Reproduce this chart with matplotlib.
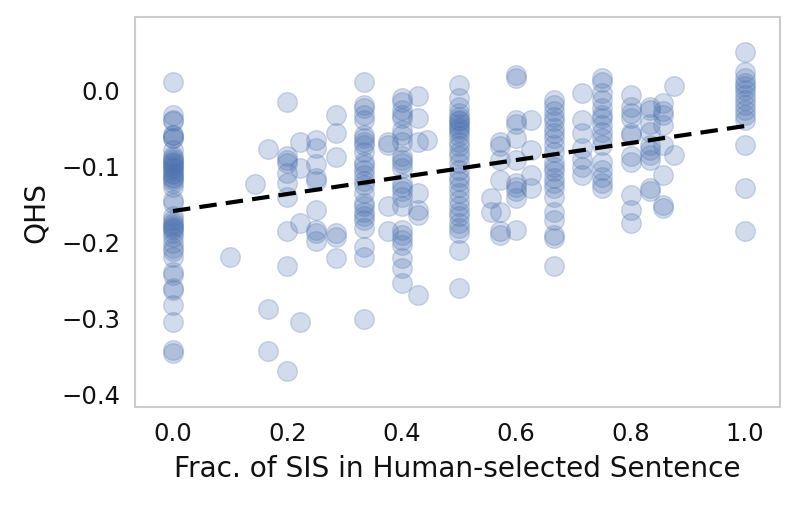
import numpy as np
import matplotlib
matplotlib.use("Agg")
import matplotlib.pyplot as plt
import seaborn as sns

# QHS values, one list per fraction level
q_0 = [0.012, -0.032, -0.038, -0.040, -0.058, -0.058, -0.062, -0.062, -0.078, -0.086,
       -0.088, -0.091, -0.093, -0.095, -0.097, -0.100, -0.102, -0.104, -0.108, -0.110,
       -0.113, -0.115, -0.117, -0.121, -0.126, -0.143, -0.148,
       -0.165, -0.170, -0.174, -0.176, -0.179, -0.181, -0.183, -0.187, -0.192, -0.200,
       -0.207, -0.211, -0.218, -0.238, -0.242, -0.260, -0.262, -0.282, -0.304, -0.341, -0.345]
q_1_10 = [-0.219]
q_1_7 = [-0.122]
q_1_6 = [-0.077, -0.287, -0.342]
q_1_5 = [-0.014, -0.086, -0.091, -0.095, -0.108, -0.121, -0.139, -0.185, -0.231, -0.369]
q_2_9 = [-0.067, -0.101, -0.174, -0.304]
q_1_4 = [-0.064, -0.075, -0.096, -0.115, -0.119, -0.157, -0.183, -0.187, -0.198]
q_2_7 = [-0.032, -0.055, -0.087, -0.187, -0.192, -0.220]
q_1_3 = [0.012, -0.018, -0.023, -0.032, -0.038, -0.058, -0.062, -0.067, -0.071, -0.080,
         -0.093, -0.097, -0.104, -0.111, -0.119, -0.124, -0.135, -0.148, -0.152, -0.159,
         -0.165, -0.170, -0.181, -0.205, -0.218, -0.300]
q_3_8 = [-0.067, -0.071, -0.152, -0.185]
q_2_5 = [-0.010, -0.014, -0.025, -0.032, -0.036, -0.051, -0.058, -0.067, -0.086, -0.091,
         -0.095, -0.102, -0.121, -0.126, -0.132, -0.139, -0.152, -0.183, -0.189, -0.196,
         -0.203, -0.220, -0.233, -0.253]
q_3_7 = [-0.007, -0.036, -0.067, -0.135, -0.157, -0.163, -0.268]
q_4_9 = [-0.064]
q_1_2 = [0.008, -0.010, -0.021, -0.029, -0.034, -0.038, -0.040, -0.043, -0.047, -0.050,
         -0.054, -0.060, -0.067, -0.073, -0.080, -0.086, -0.095, -0.104, -0.113, -0.119,
         -0.126, -0.135, -0.143, -0.152, -0.159, -0.165, -0.174, -0.181, -0.187, -0.209, -0.260]
q_5_9 = [-0.141, -0.159]
q_4_7 = [-0.067, -0.073, -0.091, -0.117, -0.159, -0.185, -0.189]
q_3_5 = [0.021, 0.017, -0.038, -0.043, -0.062, -0.091, -0.121, -0.126, -0.132, -0.141, -0.183]
q_5_8 = [-0.038, -0.078, -0.111, -0.128]
q_2_3 = [-0.012, -0.018, -0.027, -0.034, -0.040, -0.049, -0.056, -0.062, -0.071, -0.080,
         -0.093, -0.100, -0.106, -0.115, -0.121, -0.128, -0.139, -0.159, -0.170, -0.189,
         -0.194, -0.231]
q_5_7 = [-0.003, -0.038, -0.056, -0.075, -0.089, -0.100, -0.111]
q_3_4 = [0.017, 0.012, -0.003, -0.012, -0.023, -0.032, -0.036, -0.045, -0.054, -0.062,
         -0.071, -0.093, -0.104, -0.113, -0.121, -0.128]
q_4_5 = [-0.005, -0.021, -0.029, -0.036, -0.056, -0.058, -0.086, -0.093, -0.137, -0.157, -0.174]
q_5_6 = [-0.021, -0.025, -0.043, -0.054, -0.071, -0.078, -0.084, -0.091, -0.128, -0.132]
q_6_7 = [-0.016, -0.027, -0.032, -0.045, -0.071, -0.111, -0.150, -0.154]
q_7_8 = [0.006, -0.084]
q_1 = [0.051, 0.025, 0.017, 0.010, 0.006, 0.001, -0.005, -0.012, -0.018, -0.025,
       -0.032, -0.038, -0.071, -0.128, -0.185]

levels = [0, 1/10, 1/7, 1/6, 1/5, 2/9, 1/4, 2/7, 1/3, 3/8, 2/5, 3/7, 4/9, 1/2,
          5/9, 4/7, 3/5, 5/8, 2/3, 5/7, 3/4, 4/5, 5/6, 6/7, 7/8, 1]
columns = [q_0, q_1_10, q_1_7, q_1_6, q_1_5, q_2_9, q_1_4, q_2_7, q_1_3, q_3_8, q_2_5,
           q_3_7, q_4_9, q_1_2, q_5_9, q_4_7, q_3_5, q_5_8, q_2_3, q_5_7, q_3_4, q_4_5,
           q_5_6, q_6_7, q_7_8, q_1]

frac = np.concatenate([np.full(len(c), lv) for lv, c in zip(levels, columns)])
qhs = np.concatenate(columns)

sns.set_style("whitegrid")
plt.rcParams['font.family'] = ['DejaVu Sans']

fig = plt.figure(figsize=(8, 5.05), dpi=100)
ax = fig.add_axes([0.169, 0.194, 0.806, 0.772])

ax.scatter(frac, qhs, s=200, color="#4C72B0", alpha=0.25, linewidths=1,
           edgecolors="#4C72B0", zorder=2)

# linear fit, drawn like regplot's line
slope, intercept = np.polyfit(frac, qhs, 1)
xs = np.array([0.0, 1.0])
ax.plot(xs, intercept + slope * xs, color="black", lw=3.0, dashes=(4.2, 2.2), zorder=3)

ax.set_xlim(-0.066, 1.061)
ax.set_ylim(-0.416, 0.097)
ax.set_xticks([0.0, 0.2, 0.4, 0.6, 0.8, 1.0])
ax.set_yticks([0.0, -0.1, -0.2, -0.3, -0.4])
ax.grid(False)
for sp in ax.spines.values():
    sp.set_color("#cccccc")
    sp.set_linewidth(1.5)
ax.tick_params(labelsize=17.5, length=0, pad=11, labelcolor="#111111")
ax.set_xlabel("Frac. of SIS in Human-selected Sentence", fontsize=20.2, labelpad=6,
              color="#111111")
ax.set_ylabel("QHS", fontsize=20.2, labelpad=8, color="#111111")

fig.savefig("out.png", dpi=100)
